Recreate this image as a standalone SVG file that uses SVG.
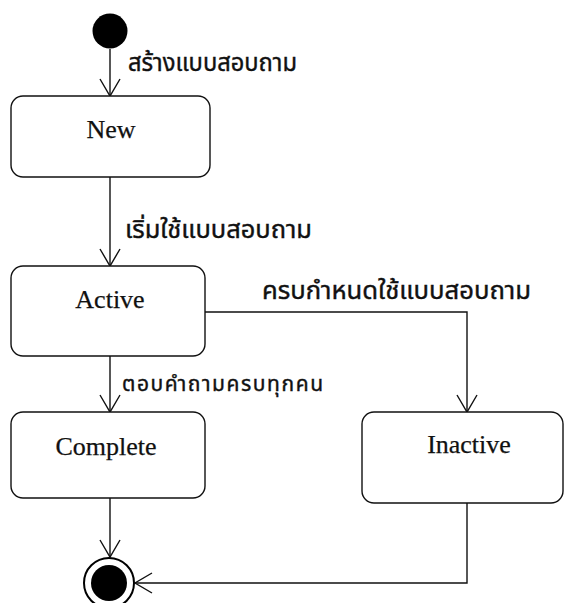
<svg xmlns="http://www.w3.org/2000/svg" width="564" height="603" viewBox="0 0 564 603">
  <style>
    .state { fill: #ffffff; stroke: #111111; stroke-width: 1.4; }
    .name { font-family: "Liberation Serif", "Times New Roman", serif; font-size: 26px; fill: #111111; stroke: #111111; stroke-width: 0.25; text-anchor: middle; }
    .event { font-family: "Noto Sans Thai", "Noto Sans", "DejaVu Sans", sans-serif; font-size: 24px; fill: #111111; stroke: #111111; stroke-width: 0.4; }
    .flow { fill: none; stroke: #111111; stroke-width: 1.4; }
  </style>
  <defs>
    <marker id="open-arrow" viewBox="0 0 20 22" refX="18" refY="11" markerWidth="20" markerHeight="22" markerUnits="userSpaceOnUse" orient="auto">
      <path d="M1,1 L18,11 L1,21" fill="none" stroke="#111111" stroke-width="1.4"/>
    </marker>
  </defs>

  <!-- transitions -->
  <g id="connectors">
    <path class="flow" d="M110,49 L110,96" marker-end="url(#open-arrow)"/>
    <path class="flow" d="M110,177 L110,266" marker-end="url(#open-arrow)"/>
    <path class="flow" d="M110,356 L110,412" marker-end="url(#open-arrow)"/>
    <path class="flow" d="M205,312 L467,312 L467,412" marker-end="url(#open-arrow)"/>
    <path class="flow" d="M110,498 L110,557" marker-end="url(#open-arrow)"/>
    <path class="flow" d="M467,503 L467,583 L135,583" marker-end="url(#open-arrow)"/>
    <text class="event" x="128" y="71" textLength="169" lengthAdjust="spacingAndGlyphs">สร้างแบบสอบถาม</text>
    <text class="event" x="125" y="238" textLength="187" lengthAdjust="spacingAndGlyphs">เริ่มใช้แบบสอบถาม</text>
    <text class="event" x="262" y="299" textLength="269" lengthAdjust="spacingAndGlyphs">ครบกำหนดใช้แบบสอบถาม</text>
    <text class="event" x="122" y="391" style="font-size:21px" textLength="201" lengthAdjust="spacing">ตอบคำถามครบทุกคน</text>
  </g>

  <g id="start">
    <circle cx="110" cy="31" r="17.5" fill="#000000"/>
  </g>

  <g id="state-new">
    <rect class="state" x="11" y="96" width="199" height="81" rx="12" ry="12"/>
    <text class="name" x="111" y="138">New</text>
  </g>

  <g id="state-active">
    <rect class="state" x="11" y="266" width="194" height="90" rx="12" ry="12"/>
    <text class="name" x="110" y="308">Active</text>
  </g>

  <g id="state-complete">
    <rect class="state" x="11" y="412" width="194" height="86" rx="12" ry="12"/>
    <text class="name" x="106" y="455">Complete</text>
  </g>

  <g id="state-inactive">
    <rect class="state" x="362" y="412" width="201" height="91" rx="12" ry="12"/>
    <text class="name" x="469" y="453">Inactive</text>
  </g>

  <g id="end">
    <circle cx="109" cy="583" r="25" fill="#ffffff" stroke="#000000" stroke-width="2"/>
    <circle cx="109" cy="583" r="18" fill="#000000"/>
  </g>
</svg>
